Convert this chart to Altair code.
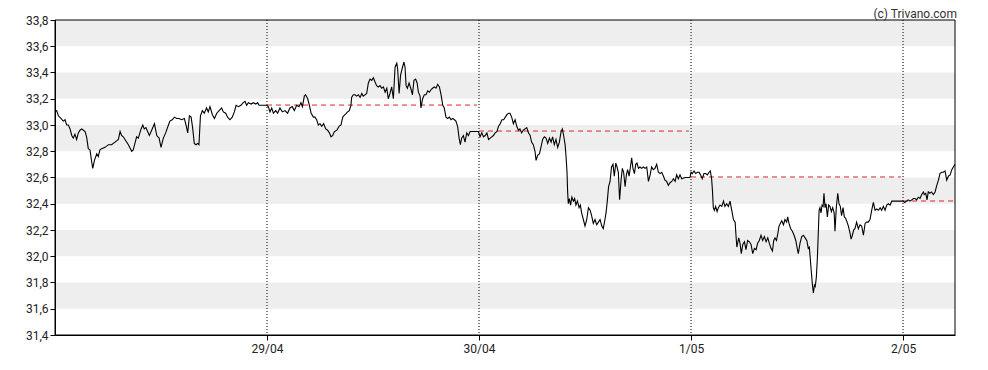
import altair as alt
import pandas as pd

# intraday time in days from chart start, and price
t = [0.000,0.008,0.016,0.028,0.039,0.047,0.055,0.063,0.071,0.079,0.086,0.094,0.102,0.110,0.118,0.126,0.134,0.142,0.149,0.157,
     0.165,0.173,0.178,0.186,0.197,0.204,0.212,0.220,0.236,0.252,0.267,0.283,0.299,0.307,0.314,0.322,0.330,0.346,0.362,0.369,
     0.377,0.385,0.393,0.406,0.414,0.421,0.429,0.437,0.445,0.456,0.469,0.480,0.491,0.500,0.511,0.522,0.535,0.542,0.553,0.563,
     0.574,0.585,0.597,0.610,0.618,0.626,0.634,0.642,0.649,0.657,0.665,0.673,0.679,0.686,0.695,0.704,
     0.715,0.723,0.731,0.742,0.752,0.763,0.774,0.786,0.794,0.805,0.814,0.825,0.836,0.846,0.854,0.865,0.877,0.888,0.896,0.904,
     0.912,0.925,0.935,0.947,0.956,0.962,0.975,0.998,1.006,1.014,1.022,1.030,1.041,1.050,1.061,1.072,1.085,1.097,1.108,1.119,
     1.129,1.140,1.151,1.160,1.167,1.176,1.182,1.192,1.200,1.208,1.219,1.226,1.234,1.242,1.250,1.258,1.267,1.277,1.286,1.294,
     1.302,1.310,1.318,1.329,1.340,1.349,1.357,1.368,1.380,1.388,1.396,1.399,1.407,
     1.415,1.423,1.431,1.439,1.447,1.454,1.462,1.470,1.478,1.486,1.494,1.502,1.509,1.517,1.525,1.533,1.541,1.549,1.557,1.565,
     1.572,1.580,1.588,1.596,1.604,1.612,1.616,1.623,1.630,1.639,1.646,1.651,1.656,1.662,1.670,1.678,1.686,1.693,1.701,1.708,
     1.714,1.722,1.726,1.734,1.742,1.750,1.758,1.766,1.774,1.781,1.789,1.797,1.805,1.813,1.821,1.829,1.836,1.844,1.852,1.860,
     1.868,1.876,1.884,1.891,1.899,1.906,1.912,1.918,1.926,1.934,1.942,1.950,1.958,1.973,1.997,2.005,2.013,2.021,2.029,2.037,
     2.045,2.053,2.060,2.068,2.076,2.084,2.092,2.100,2.108,2.116,2.124,2.132,2.140,
     2.146,2.154,2.162,2.170,2.178,2.186,2.193,2.201,2.209,2.217,2.225,2.233,2.241,2.248,2.256,2.264,2.269,2.277,2.285,2.292,
     2.300,2.308,2.316,2.324,2.332,2.340,2.347,2.355,2.363,2.371,2.379,2.387,2.393,2.399,2.406,2.410,2.415,2.418,2.421,2.426,
     2.432,2.438,2.445,2.451,2.457,2.464,2.472,2.478,2.484,2.492,2.500,2.508,2.516,2.524,2.531,2.539,2.547,2.555,2.563,2.571,
     2.579,2.586,2.594,2.599,2.605,2.611,2.618,2.625,2.632,2.638,2.645,2.651,2.657,2.663,2.670,2.676,2.682,2.689,2.695,2.701,
     2.708,2.714,2.720,2.726,2.733,2.739,2.745,2.752,2.759,2.767,2.775,2.783,2.791,2.799,2.807,2.814,2.822,
     2.830,2.838,2.846,2.854,2.862,2.870,2.877,2.885,2.893,2.901,2.909,2.917,2.925,2.932,2.940,2.948,2.956,2.972,2.995,3.000,
     3.006,3.014,3.022,3.030,3.038,3.045,3.053,3.061,3.069,3.077,3.085,3.091,3.097,3.101,3.105,3.110,3.116,3.123,3.129,3.137,
     3.145,3.153,3.160,3.168,3.176,3.184,3.192,3.200,3.208,3.212,3.216,3.225,3.231,3.237,3.244,3.252,3.259,3.267,3.275,3.283,
     3.291,3.299,3.307,3.314,3.322,3.330,3.338,3.346,3.354,3.362,3.369,3.377,3.384,3.390,3.396,3.403,3.409,3.415,3.421,3.428,
     3.436,3.443,3.451,3.456,3.462,3.470,3.478,3.486,3.494,3.502,3.506,3.514,3.522,3.530,
     3.538,3.546,3.553,3.558,3.563,3.568,3.572,3.577,3.582,3.586,3.591,3.596,3.600,3.604,3.608,3.613,3.618,3.623,3.627,3.632,
     3.637,3.643,3.649,3.655,3.662,3.668,3.675,3.679,3.685,3.692,3.698,3.704,3.710,3.717,3.723,3.729,3.736,3.742,3.748,3.755,
     3.761,3.767,3.773,3.781,3.789,3.797,3.805,3.813,3.821,3.828,3.836,3.844,3.852,3.860,3.868,3.876,3.884,3.892,3.899,3.907,
     3.915,3.923,3.931,3.939,3.947,3.962,3.986,3.994,4.000,4.008,4.016,4.024,4.033,4.041,4.049,4.057,4.064,4.072,4.080,4.088,
     4.096,4.100,4.107,4.113,4.119,4.126,4.134,4.143,4.151,4.159,4.167,4.174,4.182,4.190,4.198,4.206,4.214,4.222,4.230,4.237,
     4.245]

v = [33.10,33.11,33.07,33.05,33.03,33.04,33.00,33.00,32.97,32.92,32.90,32.93,32.89,32.94,32.96,32.97,32.96,32.95,32.91,32.82,
     32.81,32.72,32.67,32.73,32.78,32.76,32.81,32.82,32.83,32.85,32.85,32.87,32.89,32.95,32.92,32.91,32.89,32.85,32.80,32.81,
     32.86,32.91,32.90,32.97,33.00,32.97,32.98,32.95,32.92,32.96,33.01,32.92,32.90,32.83,32.90,32.94,33.00,33.03,33.04,33.06,
     33.05,33.05,33.04,33.05,33.00,32.94,33.07,33.06,32.98,32.86,32.85,32.86,32.85,33.07,33.11,33.09,
     33.13,33.10,33.14,33.08,33.05,33.09,33.11,33.13,33.10,33.09,33.06,33.04,33.06,33.10,33.15,33.14,33.15,33.17,33.18,33.15,
     33.17,33.16,33.17,33.16,33.17,33.15,33.15,33.15,33.14,33.10,33.13,33.09,33.11,33.09,33.13,33.10,33.11,33.09,33.13,33.14,
     33.11,33.15,33.14,33.17,33.14,33.22,33.23,33.20,33.15,33.09,33.06,33.06,33.04,33.00,33.01,32.99,33.01,32.97,32.96,32.94,
     32.91,32.92,32.95,32.96,32.99,33.00,33.06,33.08,33.10,33.11,33.15,33.21,33.23,
     33.23,33.22,33.23,33.21,33.24,33.22,33.23,33.24,33.32,33.35,33.34,33.36,33.33,33.30,33.29,33.30,33.28,33.29,33.25,33.28,
     33.20,33.24,33.29,33.20,33.44,33.47,33.43,33.24,33.38,33.44,33.48,33.44,33.30,33.28,33.32,33.28,33.23,33.34,33.35,33.32,
     33.25,33.22,33.13,33.20,33.23,33.23,33.26,33.25,33.27,33.28,33.29,33.28,33.31,33.29,33.23,33.15,33.13,33.06,33.05,33.06,
     33.04,33.05,33.04,33.03,32.99,32.90,32.85,32.90,32.92,32.87,32.94,32.92,32.95,32.95,32.95,32.91,32.94,32.91,32.92,32.94,
     32.89,32.90,32.91,32.92,32.94,32.95,32.99,33.01,33.04,33.04,33.06,33.08,33.09,
     33.09,33.06,33.01,33.04,32.99,32.96,32.97,32.94,32.96,32.97,32.98,32.94,32.92,32.87,32.85,32.80,32.73,32.77,32.78,32.83,
     32.89,32.91,32.90,32.86,32.90,32.87,32.91,32.85,32.89,32.83,32.87,32.95,32.97,32.92,32.85,32.77,32.64,32.49,32.40,32.44,
     32.39,32.45,32.42,32.44,32.39,32.42,32.37,32.39,32.33,32.28,32.23,32.28,32.37,32.35,32.31,32.25,32.28,32.24,32.26,32.28,
     32.23,32.21,32.28,32.33,32.42,32.53,32.57,32.68,32.70,32.61,32.71,32.68,32.64,32.43,32.58,32.67,32.64,32.53,32.62,32.66,
     32.61,32.68,32.75,32.67,32.63,32.70,32.71,32.67,32.68,32.67,32.68,32.67,32.68,32.57,32.62,32.68,32.66,
     32.67,32.70,32.64,32.63,32.64,32.61,32.58,32.57,32.54,32.56,32.57,32.59,32.57,32.62,32.59,32.62,32.59,32.60,32.60,32.64,
     32.63,32.65,32.63,32.64,32.64,32.62,32.59,32.63,32.63,32.62,32.64,32.65,32.59,32.50,32.37,32.35,32.38,32.34,32.37,32.39,
     32.38,32.42,32.38,32.40,32.38,32.42,32.35,32.28,32.26,32.16,32.07,32.14,32.10,32.02,32.09,32.11,32.05,32.12,32.11,32.09,
     32.02,32.06,32.05,32.10,32.12,32.16,32.12,32.15,32.11,32.14,32.10,32.06,32.04,32.12,32.14,32.12,32.17,32.23,32.25,32.27,
     32.24,32.28,32.26,32.30,32.25,32.21,32.19,32.16,32.12,32.05,32.02,32.10,32.15,32.16,
     32.14,32.12,32.06,32.07,31.97,31.87,31.79,31.72,31.78,31.77,31.84,31.99,32.17,32.35,32.37,32.33,32.39,32.38,32.48,32.37,
     32.40,32.30,32.39,32.38,32.34,32.37,32.33,32.19,32.37,32.48,32.40,32.38,32.31,32.37,32.30,32.29,32.26,32.23,32.19,32.13,
     32.16,32.20,32.21,32.26,32.21,32.24,32.23,32.16,32.25,32.26,32.26,32.28,32.35,32.41,32.35,32.36,32.35,32.37,32.35,32.38,
     32.35,32.39,32.40,32.39,32.42,32.42,32.42,32.42,32.42,32.41,32.42,32.43,32.42,32.43,32.44,32.44,32.43,32.45,32.44,32.47,
     32.49,32.47,32.48,32.43,32.49,32.48,32.49,32.47,32.49,32.54,32.58,32.63,32.64,32.64,32.65,32.58,32.61,32.62,32.66,32.68,
     32.70]

day_pos = [1, 2, 3, 4]
day_labels = ["29/04", "30/04", "1/05", "2/05"]

# previous-close reference levels for each session
ref_start = [1.0, 2.0, 3.0, 4.0]
ref_end = [1.99, 2.99, 3.99, 4.245]
ref_value = [33.152, 32.954, 32.604, 32.421]

band_lo = [33.6, 33.2, 32.8, 32.4, 32.0, 31.6]
band_hi = [33.8, 33.4, 33.0, 32.6, 32.2, 31.8]

y_ticks = [31.4, 31.6, 31.8, 32.0, 32.2, 32.4, 32.6, 32.8, 33.0, 33.2, 33.4, 33.6, 33.8]
x_domain = [0, 4.245]
y_domain = [31.4, 33.8]

price = pd.DataFrame({"t": t, "v": v})
days = pd.DataFrame({"d": day_pos})
refs = pd.DataFrame({"s": ref_start, "e": ref_end, "r": ref_value})
bands = pd.DataFrame({"lo": band_lo, "hi": band_hi})

xs = alt.Scale(domain=x_domain, nice=False, zero=False)
ys = alt.Scale(domain=y_domain, nice=False, zero=False)

FONT = "Roboto"
label_arr = "['', " + ", ".join("'%s'" % s for s in day_labels) + "]"

x_axis = alt.Axis(values=day_pos, labelExpr=label_arr + "[datum.value]",
                  grid=False, tickSize=5, labelPadding=3, zindex=1, title=None)
y_axis = alt.Axis(values=y_ticks, labelExpr="replace(format(datum.value, '.1f'), '.', ',')",
                  grid=False, tickSize=5, labelPadding=2, zindex=1, title=None)

band_layer = alt.Chart(bands).mark_rect(color="#eeeeee").encode(
    x=alt.value(0), x2=alt.value("width"),
    y=alt.Y("lo:Q", scale=ys, axis=y_axis), y2="hi:Q",
)

day_layer = alt.Chart(days).mark_rule(color="black", strokeWidth=1, strokeDash=[1, 2]).encode(
    x=alt.X("d:Q", scale=xs, axis=x_axis),
    y=alt.value(0), y2=alt.value("height"),
)

ref_layer = alt.Chart(refs).mark_rule(color="#e02424", strokeWidth=1, strokeDash=[5, 4]).encode(
    x=alt.X("s:Q", scale=xs, axis=x_axis), x2="e:Q",
    y=alt.Y("r:Q", scale=ys, axis=y_axis),
)

line_layer = alt.Chart(price).mark_line(color="#000000", strokeWidth=1.1).encode(
    x=alt.X("t:Q", scale=xs, axis=x_axis),
    y=alt.Y("v:Q", scale=ys, axis=y_axis),
)

frame = alt.Chart(pd.DataFrame({"a": [0]})).mark_rect(fillOpacity=0, stroke="black", strokeWidth=1).encode(
    x=alt.value(0), x2=alt.value("width"), y=alt.value(0), y2=alt.value("height"),
)

credit = alt.Chart(pd.DataFrame({"a": [0]})).mark_text(
    text="(c) Trivano.com", align="right", baseline="alphabetic",
    font=FONT, fontSize=12, color="#333333",
).encode(x=alt.value(902), y=alt.value(-2))

chart = alt.layer(band_layer, day_layer, ref_layer, line_layer, frame, credit).properties(
    width=900, height=315,
    autosize=alt.AutoSizeParams(type="none"),
    padding={"left": 47, "top": 12, "right": 25, "bottom": 27},
).configure_view(stroke=None).configure_axis(
    domainColor="black", tickColor="black", labelColor="#222222",
    labelFont=FONT, labelFontSize=12, domainWidth=1, tickWidth=1,
)

chart.save("out.html", embed_options={"renderer": "svg", "actions": False})
